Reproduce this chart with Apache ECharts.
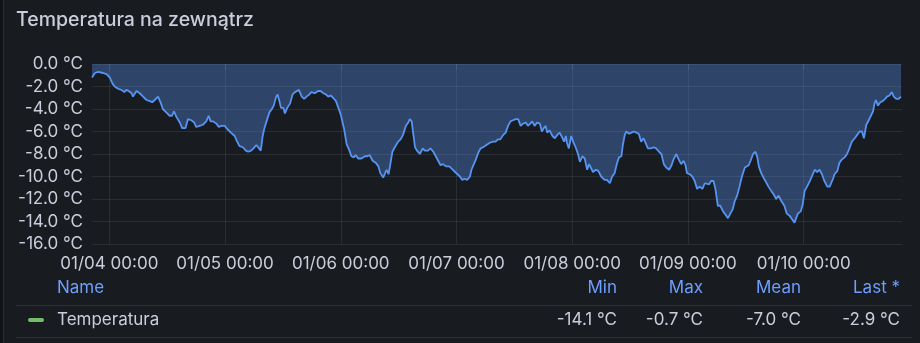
<!DOCTYPE html>
<html><head><meta charset="utf-8">
<script src="https://cdn.jsdelivr.net/npm/echarts@6/dist/echarts.min.js"></script>
<style>html,body{margin:0;padding:0;background:#111217;}#c{width:920px;height:343px;}</style>
</head><body><div id="c"></div>
<script>
const chartTitle = 'Temperatura na zewnątrz';
const seriesName = 'Temperatura';
// hours since 01/04 00:00
const hours = [
 -3.6,-3.0,-2.3,-1.3,-0.6,0.1,0.6,1.1,1.8,2.5,3.1,3.5,4.0,4.6,4.9,5.6,6.3,7.0,7.7,8.4,8.9,9.4,10.1,10.7,11.1,11.8,12.5,13.0,13.4,13.9,14.6,15.1,15.8,16.3,17.0,17.6,18.0,18.7,19.4,20.1,20.6,21.0,21.5,22.2,22.7,23.2,23.9,24.5,25.2,26.0,26.5,27.0,27.7,28.3,28.8,29.4,
 29.9,30.5,30.9,31.4,31.8,32.1,32.6,33.2,33.7,34.1,34.6,34.9,35.2,35.6,36.1,36.4,36.9,37.5,38.0,38.5,38.8,39.3,39.9,40.4,40.9,41.5,41.9,42.6,43.3,43.8,44.4,44.9,45.4,45.9,46.4,47.0,47.5,48.0,48.4,48.7,49.2,49.8,50.2,50.7,51.1,51.6,52.3,53.0,53.5,54.0,54.6,55.3,55.8,56.2,56.8,57.1,57.5,57.9,58.2,58.7,59.2,59.6,59.9,60.4,60.9,61.5,62.0,62.3,
 62.7,63.0,63.4,63.8,64.4,65.0,65.4,66.1,66.6,67.2,67.7,68.2,68.7,69.2,69.8,70.5,71.0,71.7,72.1,72.7,73.2,73.7,74.2,74.8,75.1,75.6,76.0,76.5,77.0,77.5,78.2,78.9,79.6,80.1,80.6,81.1,81.7,82.2,82.7,83.2,83.7,84.3,84.8,85.3,85.8,86.4,86.8,87.3,87.7,88.2,88.7,89.3,89.7,90.1,90.5,90.8,91.3,91.9,92.4,92.9,93.4,94.0,94.3,94.7,94.9,95.3,
 95.8,96.2,96.7,97.2,97.6,98.1,98.6,99.1,99.5,99.9,100.3,100.9,101.4,102.0,102.7,103.2,103.8,104.3,104.8,105.3,105.7,106.2,106.5,106.9,107.2,107.8,108.3,108.8,109.3,109.8,110.3,110.8,111.2,111.7,112.4,112.9,113.4,114.0,114.5,115.0,115.5,116.1,116.6,117.0,117.6,118.1,118.6,119.1,119.5,119.8,120.4,120.9,121.4,121.9,122.4,123.0,123.5,123.9,124.4,124.8,125.3,125.7,126.2,126.7,127.3,127.8,128.3,128.8,129.3,129.7,
 130.2,130.7,131.2,131.8,132.1,132.6,133.0,133.5,134.0,134.4,134.7,135.2,135.8,136.2,136.7,137.3,137.8,138.3,138.8,139.4,140.0,140.5,141.1,141.6,142.1,142.5,142.8,143.4,143.8,144.2,144.7,145.4,145.9,146.3,146.8,147.3,147.8,148.3,148.9,149.4,149.7,150.1,150.4,151.0,151.4,151.9,152.5,153.0,153.5,154.0,154.6,155.1,155.6,156.1,156.5,157.0,157.5,157.9,158.4,158.7,159.0,159.4,159.9,160.4,160.9,161.3,161.8,162.3,162.7,163.2,163.7,164.2
];
const temps = [
 -1.2,-0.8,-0.7,-0.8,-0.9,-1.2,-1.7,-2.0,-2.2,-2.3,-2.5,-2.3,-2.4,-2.6,-2.9,-2.4,-2.6,-2.9,-3.2,-3.3,-3.4,-3.2,-2.9,-3.5,-4.0,-4.3,-4.6,-4.6,-4.2,-4.7,-5.2,-5.7,-5.7,-4.9,-5.0,-5.2,-5.6,-5.5,-5.4,-5.1,-4.6,-5.1,-5.1,-5.3,-5.6,-5.5,-5.5,-5.8,-6.1,-6.4,-6.9,-7.3,-7.4,-7.7,-7.8,-7.7,
 -7.5,-7.2,-7.1,-7.7,-6.4,-5.8,-5.1,-4.3,-4.0,-3.7,-2.9,-2.7,-3.2,-3.9,-3.9,-4.4,-3.9,-3.5,-2.7,-2.5,-2.6,-2.3,-2.9,-3.1,-2.9,-2.7,-2.5,-2.6,-2.4,-2.4,-2.6,-2.7,-2.9,-2.8,-3.0,-3.3,-3.9,-4.5,-4.6,-5.8,-7.1,-7.7,-8.2,-8.3,-8.1,-8.4,-8.4,-8.2,-8.2,-8.1,-8.6,-8.8,-9.1,-9.7,-10.1,-10.1,-9.4,-9.8,-9.1,-7.8,-7.4,-7.5,-6.9,-6.7,-6.3,-5.5,-5.2,-4.9,
 -5.1,-6.1,-7.4,-7.7,-8.0,-7.5,-7.7,-7.7,-7.5,-7.8,-8.2,-8.6,-9.0,-8.9,-9.1,-9.1,-9.3,-9.6,-9.7,-10.0,-10.3,-10.2,-10.3,-10.0,-9.4,-8.9,-8.5,-7.9,-7.5,-7.4,-7.2,-7.0,-6.9,-6.9,-6.7,-6.7,-6.3,-6.1,-5.5,-5.1,-5.0,-4.9,-4.9,-5.5,-5.3,-5.2,-5.5,-5.3,-5.1,-5.5,-5.2,-5.3,-6.0,-5.7,-5.5,-6.1,-5.9,-6.4,-6.6,-6.3,-6.1,-6.6,-6.9,-6.4,-7.0,-7.5,
 -6.4,-6.9,-7.4,-8.0,-8.7,-8.2,-8.4,-9.4,-8.9,-9.0,-9.6,-9.4,-9.5,-10.0,-10.3,-10.3,-10.6,-10.0,-9.7,-8.8,-8.3,-8.2,-7.2,-6.3,-6.0,-6.2,-6.1,-6.0,-6.1,-6.2,-6.9,-6.6,-6.7,-7.5,-7.5,-7.4,-7.5,-7.8,-8.0,-8.9,-9.2,-9.4,-9.0,-8.5,-8.0,-8.5,-8.9,-8.6,-9.0,-9.7,-9.8,-10.0,-10.4,-11.1,-10.9,-11.1,-10.6,-10.5,-10.7,-10.4,-10.4,-11.1,-12.6,-12.6,-13.1,-13.4,-13.7,-13.3,-12.9,-12.2,
 -11.7,-10.9,-10.0,-9.2,-9.1,-9.0,-8.6,-8.0,-7.8,-8.3,-9.1,-9.7,-10.2,-10.5,-10.9,-11.3,-11.6,-12.0,-11.7,-12.2,-12.6,-13.3,-13.5,-13.8,-14.1,-14.0,-13.3,-13.1,-12.5,-11.3,-10.9,-10.3,-9.8,-9.4,-9.6,-9.4,-9.8,-10.4,-10.9,-10.9,-10.8,-10.2,-9.8,-9.5,-8.8,-8.5,-8.3,-8.0,-7.5,-6.9,-6.6,-6.3,-6.0,-6.0,-6.6,-5.4,-5.0,-4.9,-4.2,-3.5,-3.2,-3.7,-3.4,-3.3,-3.1,-2.9,-2.8,-2.5,-2.9,-3.1,-3.1,-2.9
];
const xRange = [-3.6, 164.4];
const tickHours = [0, 24, 48, 72, 96, 120, 144];
const tickLabels = ['01/04 00:00','01/05 00:00','01/06 00:00','01/07 00:00','01/08 00:00','01/09 00:00','01/10 00:00'];
const yMin = -16, yMax = 0, yStep = 2;
const statHeaders = ['Min', 'Max', 'Mean', 'Last *'];
const statValues = ['-14.1 °C', '-0.7 °C', '-7.0 °C', '-2.9 °C'];

const FONT = 'Inter, "Noto Sans", sans-serif';
const gridColor = 'rgba(204,204,220,0.10)';
const textColor = '#ccccdc';
const lineColor = '#5794F2';
const headColor = '#6e9fff';
const statX = [617, 703, 801, 900];

const chart = echarts.init(document.getElementById('c'), null, {renderer: 'canvas'});
const data = hours.map((h, i) => [h, temps[i]]);

const graphic = [
  {type: 'rect', z: -10, shape: {x: 3.5, y: -2, width: 930, height: 350}, style: {fill: '#181b1f', stroke: 'rgba(204,204,220,0.12)', lineWidth: 1}},
  {type: 'text', x: 16, y: 20, style: {text: chartTitle, font: '500 19.5px ' + FONT, fill: textColor, verticalAlign: 'middle'}},
  {type: 'text', x: 57, y: 288, style: {text: 'Name', font: '17px ' + FONT, fill: headColor, verticalAlign: 'middle'}},
  {type: 'line', shape: {x1: 16, y1: 305.5, x2: 912, y2: 305.5}, style: {stroke: 'rgba(204,204,220,0.12)', lineWidth: 1}},
  {type: 'rect', shape: {x: 28, y: 318, width: 16, height: 4, r: 2}, style: {fill: '#73BF69'}},
  {type: 'text', x: 57, y: 320, style: {text: seriesName, font: '17px ' + FONT, fill: textColor, verticalAlign: 'middle'}},
  {type: 'line', shape: {x1: 16, y1: 337.5, x2: 912, y2: 337.5}, style: {stroke: 'rgba(204,204,220,0.12)', lineWidth: 1}}
];
statHeaders.forEach((h, i) => {
  graphic.push({type: 'text', x: statX[i], y: 288, style: {text: h, font: '17px ' + FONT, fill: headColor, align: 'right', verticalAlign: 'middle'}});
  graphic.push({type: 'text', x: statX[i], y: 320, style: {text: statValues[i], font: '17px ' + FONT, fill: textColor, align: 'right', verticalAlign: 'middle'}});
});

chart.setOption({
  backgroundColor: '#111217',
  animation: false,
  graphic: graphic,
  grid: {left: 92, right: 18, top: 64, bottom: 99, containLabel: false},
  xAxis: {
    type: 'value', min: xRange[0], max: xRange[1],
    axisLine: {show: false},
    axisTick: {show: true, length: 6, customValues: tickHours, lineStyle: {color: gridColor}},
    splitLine: {show: true, lineStyle: {color: gridColor}},
    axisLabel: {customValues: tickHours, margin: 11, color: textColor, fontFamily: FONT, fontSize: 17,
      formatter: v => tickLabels[tickHours.indexOf(Math.round(v))] || ''}
  },
  yAxis: {
    type: 'value', min: yMin, max: yMax, interval: yStep,
    axisLine: {show: false}, axisTick: {show: false},
    splitLine: {show: true, lineStyle: {color: gridColor}},
    axisLabel: {margin: 9, color: textColor, fontFamily: FONT, fontSize: 17,
      formatter: v => v.toFixed(1) + ' °C'}
  },
  series: [{
    name: seriesName, type: 'line', data: data, showSymbol: false, smooth: false,
    lineStyle: {color: lineColor, width: 1.8},
    areaStyle: {color: 'rgba(87,148,242,0.5)', origin: 'auto'}
  }]
});
</script></body></html>
